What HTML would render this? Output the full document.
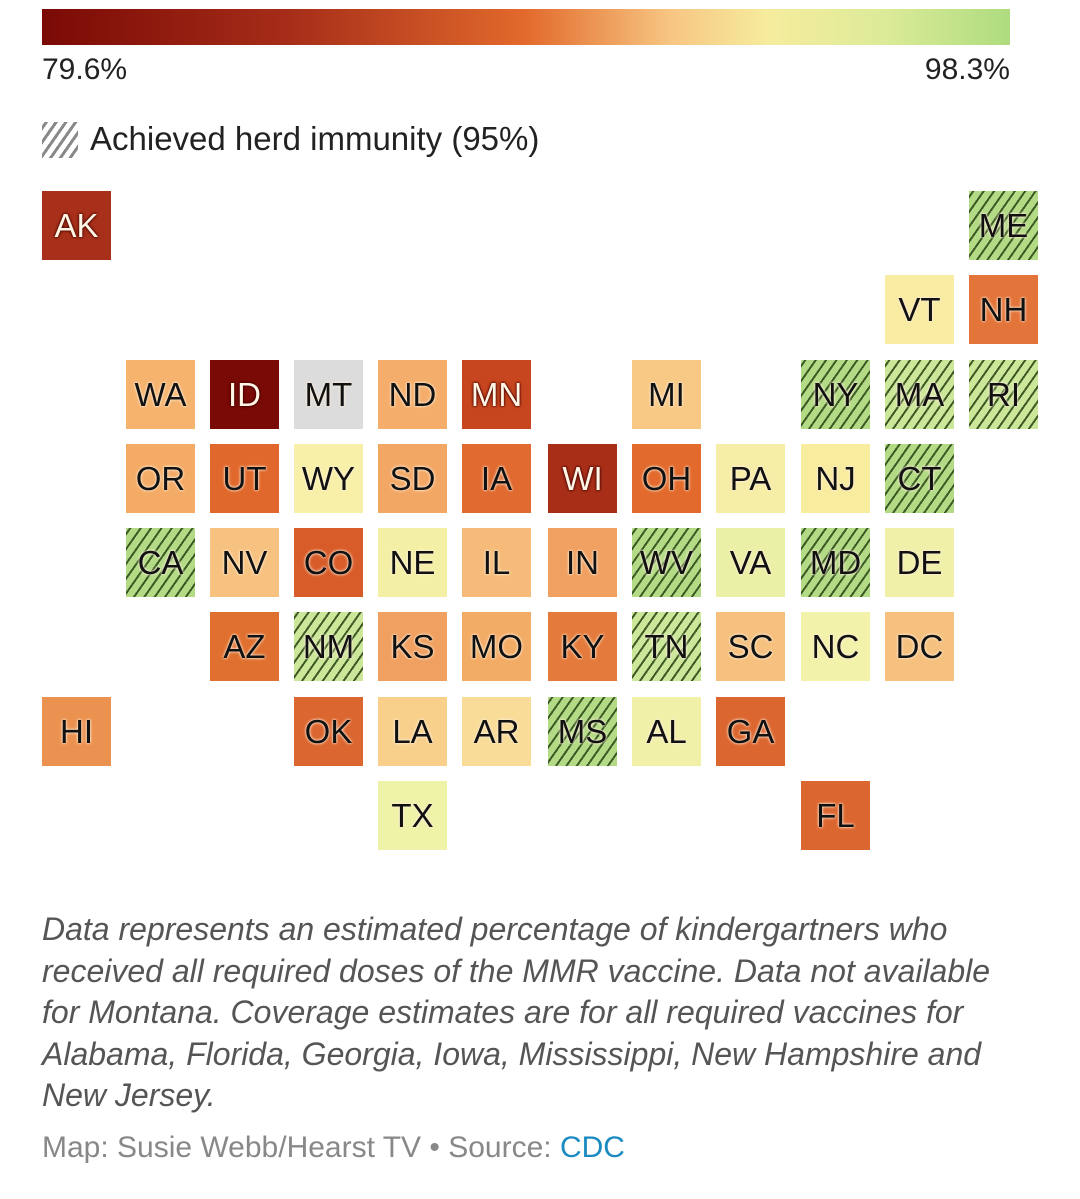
<!DOCTYPE html>
<html><head><meta charset="utf-8"><style>
body{margin:0;width:1080px;height:1199px;background:#fff;font-family:"Liberation Sans",sans-serif;position:relative;overflow:hidden}
.bar{position:absolute;left:42px;top:9px;width:968px;height:36px;background:linear-gradient(90deg,#7a0a05 0%,#a52c18 25%,#e26a2c 50%,#f7c682 65%,#f6ec9e 75%,#dceb98 87%,#aedc7e 100%)}
.lab{position:absolute;font-size:30px;color:#222;top:53px}
.t{position:absolute;width:69px;height:69px;display:flex;align-items:center;justify-content:center;font-size:33px;color:#111;text-shadow:0 0 3px rgba(255,240,220,.9),0 0 2px rgba(255,240,220,.9)}
.g{background:repeating-linear-gradient(-55deg,#b3db86 0 6.5px,#3d5a25 6.5px 8.5px)}
.gl{background:repeating-linear-gradient(-55deg,#cce79a 0 6.5px,#3d5a25 6.5px 8.5px)}
.d{color:#fff6e6;text-shadow:0 0 3px #400,0 0 2px #400}
.cap{position:absolute;left:42px;top:909px;font-size:32px;font-style:italic;color:#555;line-height:41.5px;white-space:nowrap}
.src{position:absolute;left:42px;top:1131px;font-size:30px;color:#888;white-space:nowrap}
</style></head><body>
<div class="bar"></div>
<div class="lab" style="left:42px">79.6%</div>
<div class="lab" style="right:70px">98.3%</div>
<div style="position:absolute;left:42px;top:122px;width:36px;height:36px;background:repeating-linear-gradient(-55deg,#fff 0 5px,#888 5px 8px)"></div>
<div style="position:absolute;left:90px;top:120px;font-size:33px;color:#222">Achieved herd immunity (95%)</div>

<div class="t d" style="left:42px;top:191px;background:#a8301a">AK</div>
<div class="t g" style="left:969px;top:191px">ME</div>
<div class="t" style="left:885px;top:275px;background:#f8eba2">VT</div>
<div class="t" style="left:969px;top:275px;background:#e3743a">NH</div>

<div class="t" style="left:126px;top:360px;background:#f5b36e">WA</div>
<div class="t d" style="left:210px;top:360px;background:#7a0a06">ID</div>
<div class="t" style="left:294px;top:360px;background:#dcdcdc">MT</div>
<div class="t" style="left:378px;top:360px;background:#f4ad6a">ND</div>
<div class="t d" style="left:462px;top:360px;background:#c8461f">MN</div>
<div class="t" style="left:632px;top:360px;background:#f8c885">MI</div>
<div class="t g" style="left:801px;top:360px">NY</div>
<div class="t gl" style="left:885px;top:360px">MA</div>
<div class="t gl" style="left:969px;top:360px">RI</div>

<div class="t" style="left:126px;top:444px;background:#f4ab66">OR</div>
<div class="t" style="left:210px;top:444px;background:#e0682c">UT</div>
<div class="t" style="left:294px;top:444px;background:#f8f0a8">WY</div>
<div class="t" style="left:378px;top:444px;background:#f3a765">SD</div>
<div class="t" style="left:462px;top:444px;background:#e06a30">IA</div>
<div class="t d" style="left:548px;top:444px;background:#a82e18">WI</div>
<div class="t" style="left:632px;top:444px;background:#e26a2c">OH</div>
<div class="t" style="left:716px;top:444px;background:#f6eda6">PA</div>
<div class="t" style="left:801px;top:444px;background:#f8ec9f">NJ</div>
<div class="t g" style="left:885px;top:444px">CT</div>

<div class="t g" style="left:126px;top:528px">CA</div>
<div class="t" style="left:210px;top:528px;background:#f7c27f">NV</div>
<div class="t" style="left:294px;top:528px;background:#d85c2a">CO</div>
<div class="t" style="left:378px;top:528px;background:#f3f0a5">NE</div>
<div class="t" style="left:462px;top:528px;background:#f6bb78">IL</div>
<div class="t" style="left:548px;top:528px;background:#f0a060">IN</div>
<div class="t g" style="left:632px;top:528px">WV</div>
<div class="t" style="left:716px;top:528px;background:#eaf0a5">VA</div>
<div class="t g" style="left:801px;top:528px">MD</div>
<div class="t" style="left:885px;top:528px;background:#f0f0a8">DE</div>

<div class="t" style="left:210px;top:612px;background:#e0702f">AZ</div>
<div class="t gl" style="left:294px;top:612px">NM</div>
<div class="t" style="left:378px;top:612px;background:#f0a060">KS</div>
<div class="t" style="left:462px;top:612px;background:#f3ac66">MO</div>
<div class="t" style="left:548px;top:612px;background:#e47a3b">KY</div>
<div class="t gl" style="left:632px;top:612px">TN</div>
<div class="t" style="left:716px;top:612px;background:#f6c07e">SC</div>
<div class="t" style="left:801px;top:612px;background:#f3f2ab">NC</div>
<div class="t" style="left:885px;top:612px;background:#f6c07e">DC</div>

<div class="t" style="left:42px;top:697px;background:#ec9250">HI</div>
<div class="t" style="left:294px;top:697px;background:#dc6630">OK</div>
<div class="t" style="left:378px;top:697px;background:#f8d08c">LA</div>
<div class="t" style="left:462px;top:697px;background:#f8dc98">AR</div>
<div class="t g" style="left:548px;top:697px">MS</div>
<div class="t" style="left:632px;top:697px;background:#f0f0a8">AL</div>
<div class="t" style="left:716px;top:697px;background:#dc6630">GA</div>

<div class="t" style="left:378px;top:781px;background:#eef3a8">TX</div>
<div class="t" style="left:801px;top:781px;background:#dc6630">FL</div>

<div class="cap">Data represents an estimated percentage of kindergartners who<br>received all required doses of the MMR vaccine. Data not available<br>for Montana. Coverage estimates are for all required vaccines for<br>Alabama, Florida, Georgia, Iowa, Mississippi, New Hampshire and<br>New Jersey.</div>
<div class="src">Map: Susie Webb/Hearst TV • Source: <span style="color:#1a8ac0">CDC</span></div>
</body></html>
